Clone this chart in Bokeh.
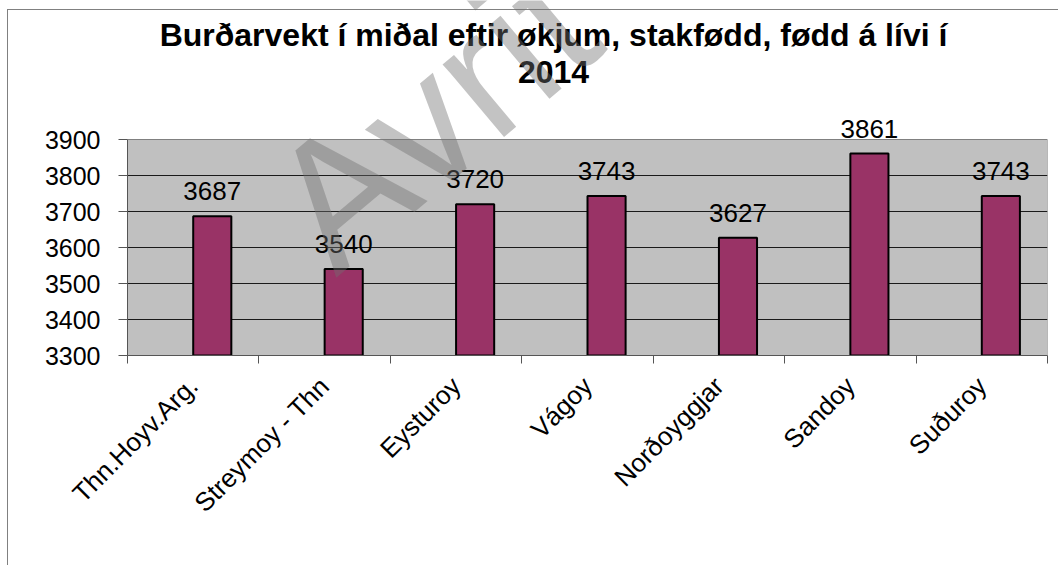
import math
from bokeh.plotting import figure
from bokeh.models import ColumnDataSource, Range1d, FixedTicker, Label
from bokeh.core.properties import value
from bokeh.embed import file_html
from bokeh.resources import INLINE

# ---- data ----
categories = ["Thn.Hoyv.Arg.", "Streymoy - Thn", "Eysturoy", "Vágoy",
              "Norðoyggjar", "Sandoy", "Suðuroy"]
weights = [3687, 3540, 3720, 3743, 3627, 3861, 3743]
y_ticks = [3300, 3400, 3500, 3600, 3700, 3800, 3900]
title_lines = ["Burðarvekt í miðal eftir økjum, stakfødd, fødd á lívi í", "2014"]
watermark = "Avrit"

FONT = "Liberation Sans"
W, H = 1058, 565
FL, FR, FB = 127, 1047, 355          # frame edges in canvas px
n = len(categories)
px_per_x = (FR - FL) / n
px_per_y = 216 / (y_ticks[-1] - y_ticks[0])
y_top = y_ticks[0] + FB / px_per_y    # data value at canvas top


def dx(px):
    return (px - FL) / px_per_x


def dy(py):
    return y_top - py / px_per_y


centers = [i + 0.5 for i in range(n)]
bar_offset = 0.145
bar_x = [c + bar_offset for c in centers]

src = ColumnDataSource(dict(x=bar_x, top=weights,
                            label=[str(w) for w in weights]))

p = figure(width=W, height=H, output_backend="svg", toolbar_location=None,
           x_range=Range1d(0, n), y_range=Range1d(y_ticks[0], y_top),
           min_border_left=FL, min_border_right=W - FR, min_border_top=0,
           min_border_bottom=H - FB)
p.styles = {"box-shadow": "inset 7px 9px 0 0 white, inset 8px 10px 0 0 #808080"}
p.background_fill_alpha = 0
p.border_fill_alpha = 0
p.outline_line_color = None

# plot area
p.quad(left=0, right=n, bottom=y_ticks[0], top=y_ticks[-1],
       fill_color="#C0C0C0", line_color="#808080", line_width=1,
       level="image")

p.vbar(x="x", top="top", bottom=y_ticks[0], width=0.29, source=src,
       fill_color="#993366", line_color="black", line_width=2)

p.text(x="x", y="top", text="label", source=src, text_align="center",
       text_baseline="alphabetic", y_offset=-25, text_font=value(FONT),
       text_font_size="26px", text_color="black")

# axes
xa = p.xaxis[0]
xa.ticker = FixedTicker(ticks=centers, minor_ticks=list(range(n + 1)))
xa.major_label_overrides = {c: lab for c, lab in zip(centers, categories)}
xa.major_tick_out = 0
xa.major_tick_in = 0
xa.minor_tick_out = 8
xa.minor_tick_in = 0
xa.minor_tick_line_color = "#555555"
xa.axis_line_color = "#555555"
xa.major_label_orientation = math.pi / 4
xa.major_label_text_font = FONT
xa.major_label_text_font_size = "26px"
xa.major_label_text_color = "black"
xa.major_label_standoff = 18

ya = p.yaxis[0]
ya.ticker = FixedTicker(ticks=y_ticks, minor_ticks=[])
ya.bounds = (y_ticks[0], y_ticks[-1])
ya.major_tick_out = 9
ya.major_tick_in = 0
ya.major_tick_line_color = "#555555"
ya.axis_line_color = "#555555"
ya.major_label_text_font = FONT
ya.major_label_text_font_size = "25px"
ya.major_label_text_color = "black"
ya.major_label_standoff = 18

p.xgrid.visible = False
p.ygrid.ticker = FixedTicker(ticks=y_ticks[1:-1])
p.ygrid.grid_line_color = "#1a1a1a"
p.ygrid.grid_line_width = 1

# title lines
for line, base_px in zip(title_lines, [34, 71]):
    p.add_layout(Label(x=dx(553), y=dy(base_px),
                       text=line, text_align="center",
                       text_baseline="alphabetic", text_font=FONT,
                       text_font_size="32px", text_font_style="bold",
                       text_color="black"))

# watermark (anchored at its centre)
p.add_layout(Label(x=dx(432), y=dy(115),
                   text=watermark, angle=40, angle_units="deg",
                   text_font=FONT, text_font_size="180px",
                   text_color="#707070", text_alpha=0.42,
                   text_baseline="middle", text_align="center"))

open("out.html", "w").write(file_html(p, INLINE))
